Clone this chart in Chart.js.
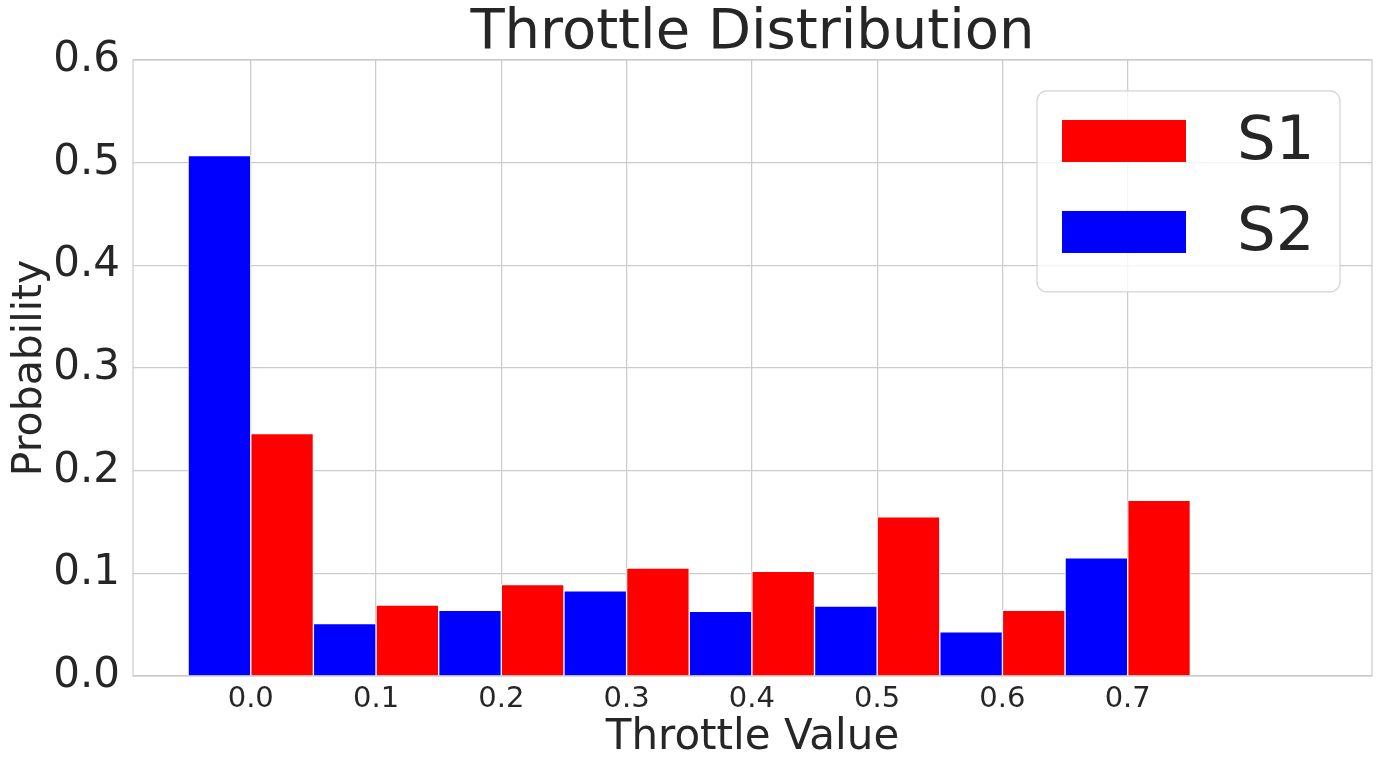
<!DOCTYPE html>
<html>
<head>
<meta charset="utf-8">
<title>Throttle Distribution</title>
<script src="https://cdn.jsdelivr.net/npm/chart.js@4/dist/chart.umd.min.js"></script>
<style>
  html, body { margin: 0; padding: 0; background: #fff; }
  #wrap { width: 1385px; height: 770px; }
</style>
</head>
<body>
<div id="wrap"><canvas id="throttle-chart"></canvas></div>
<script>
// throttle bins (tick positions) and probabilities per run
const throttleTicks = [0.0, 0.1, 0.2, 0.3, 0.4, 0.5, 0.6, 0.7];
const s1Values = [0.236, 0.069, 0.089, 0.105, 0.102, 0.155, 0.064, 0.171];
const s2Values = [0.507, 0.051, 0.064, 0.083, 0.063, 0.068, 0.043, 0.115];
const probTicks = [0.0, 0.1, 0.2, 0.3, 0.4, 0.5, 0.6];

const FONT = 'DejaVu Sans';
const TEXT = '#262626';
const GRID = '#cccccc';

const toPoints = (vals) => throttleTicks.map((t, i) => ({ x: t, y: vals[i] }));

// matplotlib-ish spines on all four sides
const frame = {
  id: 'frame',
  afterDatasetsDraw(chart) {
    const { ctx, chartArea: { left, top, right, bottom } } = chart;
    ctx.save();
    ctx.strokeStyle = GRID;
    ctx.lineWidth = 1.25;
    ctx.strokeRect(left, top, right - left, bottom - top);
    ctx.restore();
  },
};

// boxed legend inside the plot, top right
const boxLegend = {
  id: 'boxLegend',
  afterDraw(chart) {
    const { ctx, chartArea } = chart;
    const w = 303;
    const h = 201;
    const x = chartArea.right - 32 - w;
    const y = chartArea.top + 31;
    ctx.save();
    ctx.beginPath();
    ctx.roundRect(x, y, w, h, 10);
    ctx.fillStyle = 'rgba(255,255,255,0.8)';
    ctx.fill();
    ctx.strokeStyle = '#d4d4d4';
    ctx.lineWidth = 1.25;
    ctx.stroke();

    ctx.font = `61px "${FONT}"`;
    ctx.textBaseline = 'middle';
    ctx.textAlign = 'left';
    chart.data.datasets.forEach((ds, i) => {
      const cy = y + 50 + i * 91;
      ctx.fillStyle = ds.backgroundColor;
      ctx.fillRect(x + 25, cy - 21, 124, 42);
      ctx.fillStyle = TEXT;
      ctx.fillText(ds.label, x + 200, cy + 2);
    });
    ctx.restore();
  },
};

const ctx = document.getElementById('throttle-chart').getContext('2d');

new Chart(ctx, {
  type: 'bar',
  data: {
    datasets: [
      {
        label: 'S1',
        data: toPoints(s1Values),
        backgroundColor: '#ff0000',
        borderColor: '#ffffff',
        borderWidth: 1,
        order: 1,
      },
      {
        label: 'S2',
        data: toPoints(s2Values),
        backgroundColor: '#0000ff',
        borderColor: '#ffffff',
        borderWidth: 1,
        order: 0,
      },
    ],
  },
  options: {
    responsive: true,
    maintainAspectRatio: false,
    animation: false,
    layout: {
      padding: { left: 0, right: 13, top: 0, bottom: 0 },
    },
    datasets: {
      bar: {
        barPercentage: 1,
        categoryPercentage: 1,
      },
    },
    scales: {
      x: {
        type: 'linear',
        offset: false,
        min: -0.094,
        max: 0.895,
        afterBuildTicks(axis) {
          axis.ticks = throttleTicks.map((v) => ({ value: v }));
        },
        afterFit(axis) {
          axis.height = 94;
        },
        ticks: {
          padding: 6,
          color: TEXT,
          font: { family: FONT, size: 29, lineHeight: 1.2 },
          callback: (v) => Number(v).toFixed(1),
        },
        grid: { color: GRID, lineWidth: 1.25, drawTicks: false, offset: false },
        border: { display: false },
        title: {
          display: true,
          text: 'Throttle Value',
          color: TEXT,
          font: { family: FONT, size: 42, lineHeight: 1.2 },
          padding: { top: 0, bottom: 7 },
        },
      },
      y: {
        min: 0,
        max: 0.6,
        afterBuildTicks(axis) {
          axis.ticks = probTicks.map((v) => ({ value: v }));
        },
        afterFit(axis) {
          axis.width = 133;
        },
        ticks: {
          padding: 13,
          color: TEXT,
          font: { family: FONT, size: 42 },
          callback: (v) => Number(v).toFixed(1),
        },
        grid: { color: GRID, lineWidth: 1.25, drawTicks: false },
        border: { display: false },
        title: {
          display: true,
          text: 'Probability',
          color: TEXT,
          font: { family: FONT, size: 41, lineHeight: 1.2 },
          padding: { top: 6, bottom: 0 },
        },
      },
    },
    plugins: {
      legend: { display: false },
      tooltip: { enabled: false },
      title: {
        display: true,
        fullSize: false,
        text: 'Throttle Distribution',
        color: TEXT,
        font: { family: FONT, size: 56, weight: 'normal', lineHeight: 0.946 },
        padding: { top: 7, bottom: 0 },
      },
    },
  },
  plugins: [frame, boxLegend],
});
</script>
</body>
</html>
